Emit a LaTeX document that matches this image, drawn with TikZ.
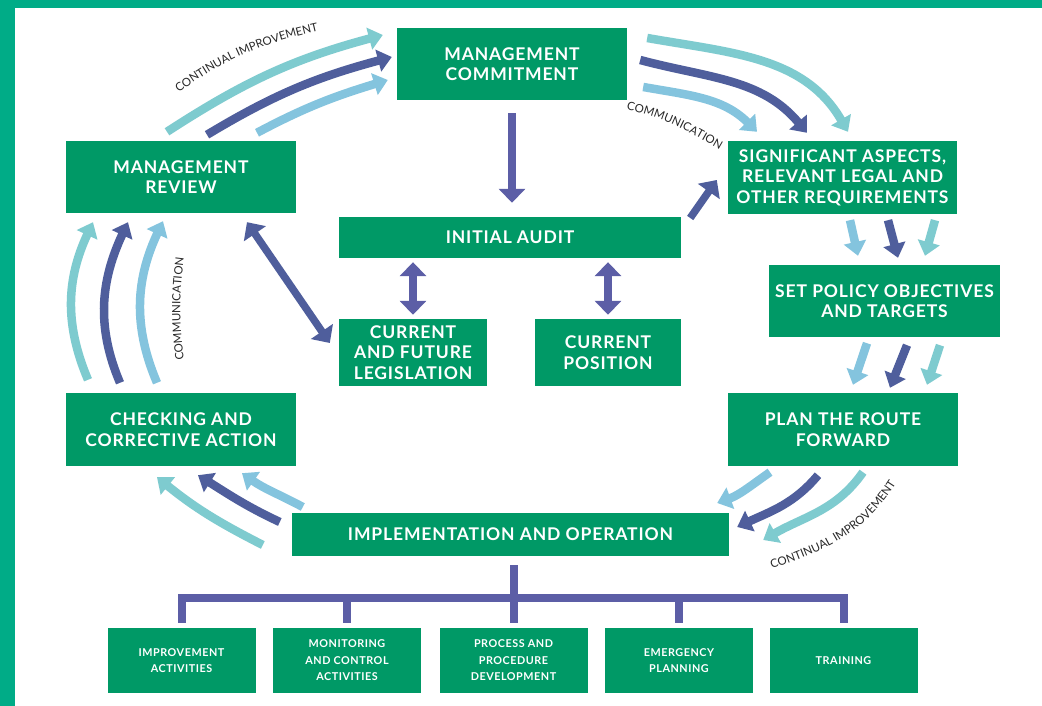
\documentclass[tikz,border=0pt]{standalone}
\usepackage{fontspec}
\setmainfont{Lato}
\usetikzlibrary{arrows.meta,calc,decorations.text}

\definecolor{edgegreen}{RGB}{0,172,135}
\definecolor{boxgreen}{RGB}{0,153,102}
\definecolor{lightteal}{RGB}{126,203,207}
\definecolor{lightblue}{RGB}{132,196,222}
\definecolor{darkblue}{RGB}{79,94,156}
\definecolor{busviolet}{RGB}{92,94,166}
\definecolor{labelgrey}{RGB}{40,40,40}

\newfontfamily\boxfamily{Lato}[LetterSpace=5]
\newcommand{\bigboxfont}{\boxfamily\bfseries\fontsize{17.5}{20.5}\selectfont}
\newcommand{\smallboxfont}{\boxfamily\bfseries\fontsize{10.8}{16.5}\selectfont}
\newcommand{\tagfont}{\fontsize{11.5}{13}\selectfont}

\tikzset{
  box/.style={fill=boxgreen, text=white, align=center, inner sep=0pt, font=\bigboxfont},
  subbox/.style={box, minimum width=148pt, minimum height=65pt, font=\smallboxfont},
  cycle/.style={line width=8.5pt, -{Triangle[width=22pt,length=14pt]}},
  link/.style={line width=7.5pt, draw=busviolet, -{Triangle[width=26pt,length=14pt]}},
  twoway/.style={link, {Triangle[width=26pt,length=14pt]}-{Triangle[width=26pt,length=14pt]}},
  bus/.style={line width=8pt, draw=busviolet},
  tag/.style={decorate, decoration={text along path, text align=center,
      text color=labelgrey, text={|\tagfont|#1}}}
}

\begin{document}
\begin{tikzpicture}[x=1pt,y=1pt]
  \useasboundingbox (0,0) rectangle (1042,706);
  \fill[white] (0,0) rectangle (1042,706);
  \fill[edgegreen] (0,0) rectangle (15,706);
  \fill[edgegreen] (0,698) rectangle (1042,706);

  % the cycle
  \node[box, minimum width=230pt, minimum height=72pt] (com) at (512,642) {MANAGEMENT\\COMMITMENT};
  \node[box, minimum width=230pt, minimum height=72pt] (rev) at (181,529) {MANAGEMENT\\REVIEW};
  \node[box, minimum width=229pt, minimum height=73pt] (sig) at (842.5,528.5)
    {SIGNIFICANT ASPECTS,\\RELEVANT LEGAL AND\\OTHER REQUIREMENTS};
  \node[box, minimum width=231pt, minimum height=72pt] (pol) at (884.5,405) {SET POLICY OBJECTIVES\\AND TARGETS};
  \node[box, minimum width=230pt, minimum height=73pt] (plan) at (843,276.5) {PLAN THE ROUTE\\FORWARD};
  \node[box, minimum width=230pt, minimum height=73pt] (chk) at (181,276.5) {CHECKING AND\\CORRECTIVE ACTION};
  \node[box, minimum width=437pt, minimum height=43pt] (imp) at (510.5,171.5) {IMPLEMENTATION AND OPERATION};

  % audit in the middle
  \node[box, minimum width=342pt, minimum height=41pt] (aud) at (510,468.5) {INITIAL AUDIT};
  \node[box, minimum width=148pt, minimum height=67pt] (leg) at (413,353.5) {CURRENT\\AND FUTURE\\LEGISLATION};
  \node[box, minimum width=146pt, minimum height=67pt] (pos) at (608,353.5) {CURRENT\\POSITION};

  % operation tasks
  \node[subbox] (b1) at (181.5,45.5) {IMPROVEMENT\\ACTIVITIES};
  \node[subbox] (b2) at (347,45.5) {MONITORING\\AND CONTROL\\ACTIVITIES};
  \node[subbox] (b3) at (513.5,45.5) {PROCESS AND\\PROCEDURE\\DEVELOPMENT};
  \node[subbox] (b4) at (679,45.5) {EMERGENCY\\PLANNING};
  \node[subbox] (b5) at (843.5,45.5) {TRAINING};

  % review -> commitment
  \draw[cycle, lightteal] ($(rev.north)+(-14,9)$) to[out=33,in=195] ($(com.west)+(-14,29)$);
  \draw[cycle, darkblue] ($(rev.north)+(26,6)$) to[out=31,in=195] ($(com.west)+(-5,7)$);
  \draw[cycle, lightblue] ($(rev.north)+(76,8)$) to[out=28,in=197] ($(com.west)+(-9,-16)$);
  % commitment -> aspects
  \draw[cycle, lightteal] ($(com.east)+(20,26)$) to[out=-10,in=120] ($(sig.north)+(5.5,9)$);
  \draw[cycle, darkblue] ($(com.east)+(13,4)$) to[out=-15,in=130] ($(sig.north)+(-35.5,8)$);
  \draw[cycle, lightblue] ($(com.east)+(16,-23)$) to[out=-10,in=135] ($(sig.north)+(-85.5,9)$);
  % aspects -> policy
  \draw[cycle, lightblue] ($(sig.south)+(7.5,-6)$) -- ($(pol.north)+(-26.5,9)$);
  \draw[cycle, darkblue] ($(sig.south)+(45.5,-6)$) -- ($(pol.north)+(13.5,7)$);
  \draw[cycle, lightteal] ($(sig.south)+(92.5,-6)$) -- ($(pol.north)+(40.5,9)$);
  % policy -> plan
  \draw[cycle, lightblue] ($(pol.south)+(-17.5,-6)$) -- ($(plan.north)+(10,8)$);
  \draw[cycle, darkblue] ($(pol.south)+(22.5,-8)$) -- ($(plan.north)+(47,5)$);
  \draw[cycle, lightteal] ($(pol.south)+(55.5,-8)$) -- ($(plan.north)+(84,8)$);
  % plan -> implementation
  \draw[cycle, lightblue] ($(plan.south)+(-73,-6)$) to[out=-145,in=20] ($(imp.east)+(-12,31.5)$);
  \draw[cycle, darkblue] ($(plan.south)+(-25,-9)$) to[out=-130,in=25] ($(imp.east)+(8,7.5)$);
  \draw[cycle, lightteal] ($(plan.south)+(20,-6)$) to[out=-125,in=30] ($(imp.east)+(34,-5.5)$);
  % implementation -> checking
  \draw[cycle, lightteal] ($(imp.west)+(-29,-10.5)$) to[out=153,in=-39] ($(chk.south)+(-24,-11)$);
  \draw[cycle, darkblue] ($(imp.west)+(-12,12.5)$) to[out=155,in=-32] ($(chk.south)+(17,-9)$);
  \draw[cycle, lightblue] ($(imp.west)+(11,27.5)$) to[out=152,in=-35] ($(chk.south)+(61,-7)$);
  % checking -> review
  \draw[cycle, lightteal] ($(chk.north)+(-93,13)$) to[out=113,in=-115] ($(rev.south)+(-88,-9)$);
  \draw[cycle, darkblue] ($(chk.north)+(-61,10)$) to[out=113,in=-115] ($(rev.south)+(-53,-9)$);
  \draw[cycle, lightblue] ($(chk.north)+(-24,10)$) to[out=113,in=-115] ($(rev.south)+(-18,-8)$);

  \draw[link] ($(com.south)+(0,-13)$) -- ($(aud.north)+(2,14)$);
  \draw[link, darkblue] ($(aud.east)+(9,19.5)$) -- ($(sig.west)+(-11,-2.5)$);
  \draw[twoway, darkblue] ($(rev.south)+(66,-9)$) -- ($(leg.west)+(-9,9.5)$);
  \draw[twoway] ($(leg.north |- aud.south)+(0,-4)$) -- ($(leg.north)+(0,4)$);
  \draw[twoway] ($(pos.north |- aud.south)+(0,-4)$) -- ($(pos.north)+(0,4)$);

  % branches to the tasks
  \coordinate (hub) at ($(b3.north)+(0,30)$);
  \draw[bus] (imp.south -| hub) ++(0,-9) -- (hub);
  \draw[bus] ($(b1.north)+(0,5)$) |- (hub -| b5.north) -- ($(b5.north)+(0,5)$);
  \foreach \n in {b2,b3,b4}
    \draw[bus] ($(\n.north)+(0,5)$) -- (\n.north |- hub);

  \path[tag={CONTINUAL IMPROVEMENT}] (176,611) to[out=37,in=193] (322,676);
  \path[tag={COMMUNICATION}] (624,597) to[out=-12,in=150] (722,555);
  \path[tag={COMMUNICATION}] (184,346) to[out=97,in=-97] (184,448);
  \path[tag={CONTINUAL IMPROVEMENT}] (770,137) to[out=18,in=-122] (897,224);
\end{tikzpicture}
\end{document}
